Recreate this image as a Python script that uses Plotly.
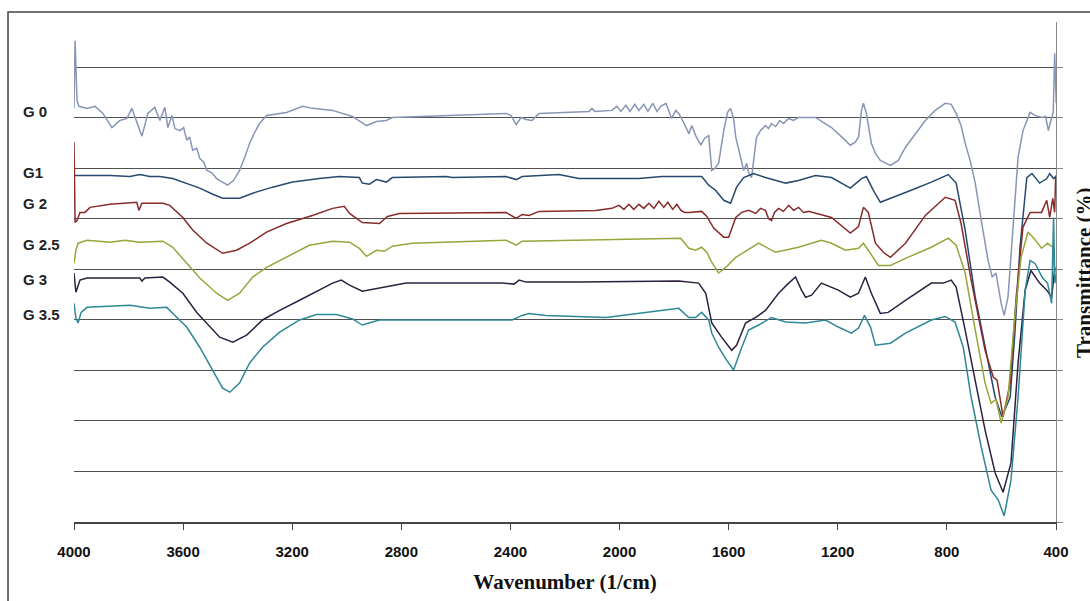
import plotly.graph_objects as go

# ---------------- data (wavenumber in 1/cm, transmittance in stacked/offset units) -------------
labels = ["G 0", "G1", "G 2", "G 2.5", "G 3", "G 3.5"]
colors = ["#8796b5", "#264a6e", "#862b2b", "#9aa43a", "#2d2040", "#2f8796"]

g0_wn = [4000, 3996, 3989, 3982, 3952, 3923, 3894, 3861, 3832, 3806, 3788, 3751, 3729, 3704, 3685, 3667,
         3656, 3641, 3630, 3612, 3598, 3587, 3576, 3565, 3550, 3539, 3524, 3513, 3495, 3477, 3459, 3437,
         3415, 3393, 3374, 3356, 3338, 3320, 3294, 3221, 3162, 3126, 3052, 2979, 2928, 2891, 2855, 2833,
         2416, 2398, 2379, 2361, 2343, 2321, 2295, 2112, 2101, 2090, 2028, 2010, 1995, 1977, 1962, 1944,
         1929, 1911, 1896, 1878, 1863, 1849, 1830, 1819, 1809, 1794, 1783, 1765, 1746, 1735, 1721, 1702,
         1688, 1673, 1662, 1651, 1637, 1618, 1604, 1593, 1582, 1574, 1563, 1556, 1545, 1534, 1527, 1516,
         1498, 1483, 1465, 1454, 1443, 1428, 1413, 1399, 1380, 1362, 1344, 1282, 1223, 1179, 1154, 1136,
         1124, 1113, 1106, 1095, 1077, 1062, 1044, 1007, 978, 952, 916, 879, 843, 806, 784, 766, 748, 733,
         715, 696, 674, 649, 634, 620, 601, 590, 576, 557, 539, 521, 495, 477, 450, 438, 428, 416, 410,
         405, 401, 399]
g0_t = [81.9, 95.3, 83.5, 82.3, 81.9, 82.3, 80.9, 78.1, 79.5, 79.9, 81.9, 76.4, 80.9, 82.1, 79.5, 82.1,
        78.1, 80.5, 77.9, 77.5, 78.1, 75.6, 76.2, 73.6, 74.0, 72.0, 71.2, 69.6, 69.2, 68.0, 67.4, 66.7,
        67.6, 69.6, 72.2, 75.0, 77.1, 78.9, 80.5, 81.1, 82.3, 81.9, 81.5, 80.3, 78.5, 79.3, 79.5, 80.1,
        80.9, 80.5, 78.7, 80.1, 79.7, 79.5, 80.9, 81.3, 81.9, 81.3, 81.5, 82.3, 81.3, 82.5, 81.3, 82.7,
        81.5, 82.7, 81.3, 82.9, 81.3, 82.3, 82.9, 81.1, 79.9, 81.5, 80.9, 79.1, 76.9, 78.5, 76.5, 74.6,
        76.0, 76.5, 69.6, 70.0, 71.0, 77.5, 81.1, 81.9, 79.9, 76.2, 73.6, 71.6, 69.6, 71.0, 69.2, 68.2,
        76.2, 77.5, 78.5, 77.9, 78.9, 78.3, 79.5, 78.9, 79.9, 79.5, 80.1, 80.1, 78.1, 75.9, 74.6, 75.2,
        76.2, 81.5, 82.9, 80.9, 75.0, 73.0, 71.6, 70.6, 71.6, 74.2, 76.9, 79.5, 81.5, 82.9, 82.7, 80.9,
        78.5, 75.0, 71.6, 67.1, 59.7, 51.8, 48.5, 49.3, 43.3, 40.9, 44.5, 57.8, 72.2, 77.5, 81.1, 80.5,
        80.1, 80.3, 77.5, 80.1, 81.1, 92.8, 84.1, 82.9]

g1_wn = [4000, 3989, 3868, 3795, 3759, 3722, 3685, 3638, 3587, 3539, 3491, 3455, 3393, 3345, 3272, 3199,
         3100, 3027, 2954, 2943, 2917, 2891, 2855, 2833, 2635, 2613, 2416, 2379, 2357, 2222, 2149, 1929,
         1845, 1699, 1673, 1648, 1618, 1593, 1571, 1545, 1509, 1465, 1391, 1344, 1282, 1223, 1154, 1113,
         1095, 1070, 1044, 1004, 931, 857, 795, 766, 733, 696, 660, 623, 598, 568, 550, 532, 507, 488,
         460, 434, 423, 409, 401]
g1_t = [68.6, 68.6, 68.6, 68.4, 68.8, 68.4, 68.4, 68.0, 67.1, 66.1, 64.9, 64.1, 64.1, 65.1, 66.3, 67.3,
        68.0, 68.4, 68.2, 67.1, 66.9, 67.8, 67.3, 68.2, 68.4, 68.2, 68.4, 67.8, 68.4, 68.8, 68.0, 68.0,
        68.4, 68.4, 66.7, 65.7, 63.7, 63.1, 66.3, 68.2, 69.0, 68.2, 67.1, 67.6, 68.6, 68.2, 66.1, 68.0,
        68.4, 65.7, 63.3, 64.1, 65.7, 67.3, 68.8, 67.1, 57.8, 44.5, 34.6, 24.7, 20.8, 24.7, 38.0, 54.4,
        68.2, 69.0, 67.1, 68.0, 69.0, 68.0, 68.4]

g2_wn = [4000, 3996, 3989, 3978, 3960, 3941, 3868, 3770, 3762, 3751, 3674, 3649, 3601, 3565, 3513, 3455,
         3404, 3356, 3294, 3221, 3126, 3052, 3009, 2990, 2943, 2880, 2851, 2807, 2416, 2379, 2357, 2332,
         2295, 2087, 2028, 2002, 1984, 1966, 1948, 1929, 1911, 1893, 1874, 1856, 1838, 1823, 1805, 1790,
         1775, 1761, 1746, 1699, 1680, 1655, 1618, 1600, 1574, 1552, 1527, 1501, 1483, 1465, 1454, 1443,
         1432, 1417, 1399, 1380, 1362, 1344, 1326, 1307, 1223, 1179, 1154, 1124, 1106, 1088, 1062, 1033,
         1007, 952, 879, 806, 770, 748, 711, 660, 630, 616, 594, 568, 546, 521, 495, 453, 434, 423, 412,
         405, 401]
g2_t = [75.2, 59.3, 59.7, 61.3, 61.3, 62.3, 62.9, 63.3, 61.7, 63.1, 63.1, 62.7, 60.3, 57.8, 55.2, 53.2,
        53.8, 55.2, 57.4, 59.1, 60.7, 62.1, 62.5, 61.1, 59.3, 59.1, 60.5, 61.1, 61.3, 60.1, 60.9, 60.7,
        61.5, 61.7, 62.1, 62.7, 61.9, 62.9, 61.9, 62.9, 62.1, 63.1, 62.1, 63.5, 62.3, 63.3, 61.9, 62.9,
        61.7, 61.3, 61.3, 61.5, 60.5, 58.2, 56.4, 56.4, 60.3, 61.3, 61.7, 61.1, 62.1, 61.7, 60.1, 59.7,
        61.3, 62.1, 61.5, 62.7, 61.7, 62.3, 61.3, 61.5, 60.3, 58.2, 57.2, 58.5, 62.3, 61.3, 55.2, 53.4,
        52.4, 55.2, 60.7, 64.3, 63.7, 59.1, 47.9, 34.0, 28.7, 28.1, 20.8, 27.5, 44.5, 58.4, 61.3, 61.3,
        63.7, 60.3, 64.1, 61.3, 68.6]

g25_wn = [4000, 3993, 3985, 3952, 3868, 3813, 3759, 3674, 3638, 3587, 3539, 3477, 3437, 3393, 3345, 3294,
          3221, 3137, 3052, 2990, 2954, 2928, 2891, 2862, 2833, 2760, 2416, 2379, 2357, 1977, 1882, 1776,
          1746, 1721, 1699, 1680, 1666, 1637, 1611, 1574, 1490, 1428, 1344, 1260, 1223, 1172, 1124, 1106,
          1088, 1051, 1007, 952, 857, 795, 766, 733, 696, 660, 638, 620, 601, 576, 550, 528, 503, 481,
          453, 431, 412, 404]
g25_t = [51.2, 53.8, 55.2, 55.8, 55.4, 55.8, 55.4, 55.6, 54.4, 51.2, 48.3, 45.3, 43.9, 45.3, 48.5, 50.4,
         52.4, 54.8, 55.6, 55.4, 54.2, 52.6, 53.8, 53.6, 54.6, 55.2, 55.8, 54.8, 55.6, 56.0, 56.2, 56.2,
         54.2, 53.8, 54.4, 53.4, 51.8, 49.3, 50.4, 52.4, 55.2, 53.4, 54.4, 55.8, 55.2, 53.8, 54.2, 55.2,
         53.8, 50.8, 50.8, 52.2, 54.4, 56.2, 54.8, 49.3, 38.0, 27.5, 23.5, 24.3, 19.6, 24.7, 41.3, 52.4,
         57.4, 56.2, 54.2, 55.2, 54.4, 48.5]

g3_wn = [4000, 3996, 3993, 3978, 3952, 3759, 3751, 3740, 3674, 3649, 3601, 3550, 3513, 3466, 3418, 3367,
         3309, 3246, 3173, 3100, 3052, 3020, 2990, 2943, 2880, 2833, 2782, 2430, 2387, 2368, 2343, 2149,
         1783, 1710, 1684, 1662, 1626, 1589, 1571, 1538, 1498, 1465, 1417, 1380, 1355, 1333, 1318, 1296,
         1260, 1198, 1154, 1124, 1099, 1077, 1044, 1015, 952, 857, 813, 784, 766, 733, 696, 660, 623,
         594, 565, 539, 513, 492, 460, 434, 416, 404]
g3_t = [49.3, 45.9, 45.5, 47.9, 48.3, 48.3, 47.7, 48.3, 48.5, 47.5, 45.3, 41.5, 39.4, 36.6, 35.6, 37.0,
        40.0, 41.9, 43.9, 45.9, 47.3, 47.9, 46.9, 45.7, 46.3, 46.7, 47.3, 47.3, 47.1, 47.9, 47.5, 47.5,
        47.7, 47.3, 45.3, 39.4, 36.6, 34.0, 35.0, 39.4, 40.6, 41.9, 45.3, 47.3, 48.5, 45.9, 44.5, 44.9,
        47.3, 45.9, 44.5, 45.3, 48.5, 45.3, 41.3, 41.5, 43.9, 47.3, 47.3, 47.9, 46.5, 38.0, 28.1, 18.2,
        9.7, 5.9, 11.7, 31.5, 45.9, 49.8, 47.3, 45.9, 44.5, 50.4]

g35_wn = [4000, 3993, 3985, 3974, 3952, 3795, 3722, 3660, 3630, 3587, 3539, 3491, 3455, 3429, 3393, 3356,
          3309, 3246, 3173, 3111, 3038, 2979, 2943, 2906, 2880, 2394, 2357, 2332, 2270, 2050, 1904, 1783,
          1746, 1721, 1699, 1673, 1662, 1637, 1607, 1582, 1556, 1527, 1490, 1443, 1391, 1318, 1245, 1198,
          1150, 1124, 1102, 1080, 1062, 1007, 952, 857, 806, 770, 740, 711, 674, 638, 612, 590, 565,
          539, 513, 495, 477, 449, 431, 416, 409, 404, 401]
g35_t = [43.3, 40.4, 39.4, 41.5, 42.5, 42.9, 42.3, 42.5, 40.9, 38.6, 34.6, 30.1, 26.5, 25.7, 27.5, 31.5,
         34.6, 37.6, 40.0, 41.1, 41.1, 40.2, 39.0, 39.6, 40.0, 40.0, 40.9, 41.3, 40.9, 40.5, 41.5, 42.3,
         40.5, 40.5, 41.5, 40.0, 37.4, 34.6, 32.0, 30.1, 34.0, 38.0, 39.0, 40.5, 39.6, 39.4, 40.0, 38.6,
         37.4, 38.4, 40.9, 38.6, 35.0, 35.4, 37.4, 40.0, 40.7, 39.6, 34.6, 24.7, 14.8, 6.3, 4.4, 1.2, 8.3,
         24.7, 45.9, 51.8, 51.2, 48.3, 47.3, 43.3, 60.3, 47.3, 48.9]

series_wn = [g0_wn, g1_wn, g2_wn, g25_wn, g3_wn, g35_wn]
series_t = [g0_t, g1_t, g2_t, g25_t, g3_t, g35_t]

x_ticks = [4000, 3600, 3200, 2800, 2400, 2000, 1600, 1200, 800, 400]
label_pos = [81.3, 69.2, 63.1, 55.0, 48.1, 41.1]   # where the series names sit (axis units)

# ---------------- figure ----------------
fig = go.Figure()
for wn, t, c, name in zip(series_wn, series_t, colors, labels):
    fig.add_trace(go.Scatter(x=wn, y=t, mode="lines", name=name,
                             line=dict(color=c, width=1.5), showlegend=False))

for name, yv in zip(labels, label_pos):
    fig.add_annotation(text="<b>%s</b>" % name, x=-0.054, xref="paper", y=yv, yref="y",
                       xanchor="left", yanchor="middle", showarrow=False,
                       font=dict(family="Liberation Sans", size=15, color="#222222"))

fig.add_annotation(text="<b>Transmittance (%)</b>", textangle=-90, x=1.0285, xref="paper",
                   y=0.5, yref="paper", xanchor="center", yanchor="middle", showarrow=False,
                   font=dict(family="Liberation Serif", size=21, color="#111111"))

# outer frame of the picture
fig.add_shape(type="rect", xref="paper", yref="paper", x0=-0.0672, x1=1.05, y0=-0.2, y1=1.02,
              line=dict(color="#444444", width=1.5), fillcolor="rgba(0,0,0,0)", layer="below")

fig.update_layout(
    width=1090, height=601,
    margin=dict(l=74, r=34, t=22, b=79),
    paper_bgcolor="white", plot_bgcolor="white",
    xaxis=dict(range=[4000, 400], tickvals=x_ticks, ticktext=[str(v) for v in x_ticks],
               showgrid=False, zeroline=False, showline=True, linecolor="#444444", linewidth=1.5,
               ticks="outside", ticklen=6, tickcolor="#444444", tickwidth=1.2,
               ticklabelstandoff=9,
               tickfont=dict(family="Liberation Sans", size=15, color="#111111", weight="bold"),
               title=dict(text="<b>Wavenumber (1/cm)</b>", standoff=16,
                          font=dict(family="Liberation Serif", size=21, color="#111111"))),
    yaxis=dict(range=[0, 99], dtick=10, tick0=0, side="right", showticklabels=False,
               showgrid=True, gridcolor="#505050", gridwidth=1.4, zeroline=False,
               showline=True, linecolor="#8a8a8a", linewidth=1.2,
               ticks="outside", ticklen=6, tickcolor="#8a8a8a"),
)

# remove the browser's default 8 px page margin so the figure fills the window exactly
fig.write_html("out.html", config={"displayModeBar": False},
               post_script="document.body.style.margin='0';document.body.style.overflow='hidden';")
